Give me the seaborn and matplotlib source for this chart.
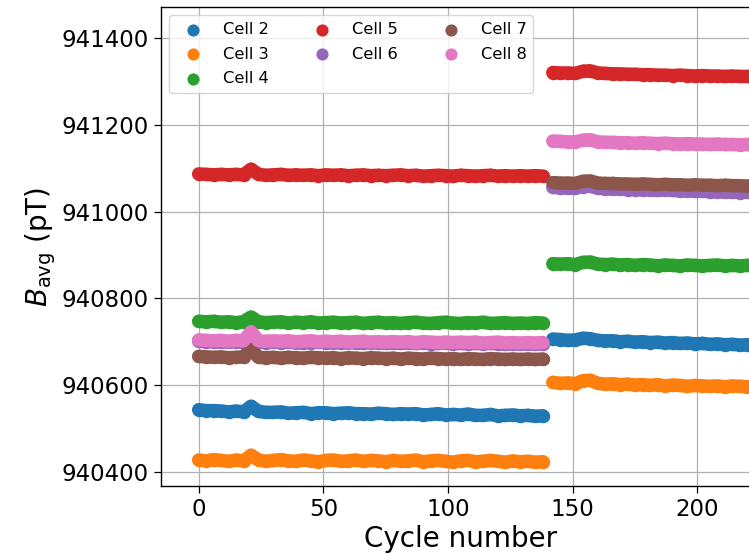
import numpy as np
import pandas as pd
import matplotlib
matplotlib.use("Agg")
import matplotlib.pyplot as plt
import seaborn as sns

# ---------------- data (pT) ----------------
cells = ["Cell 2", "Cell 3", "Cell 4", "Cell 5", "Cell 6", "Cell 7", "Cell 8"]
cycles_run1 = list(range(0, 139, 3))      # 47 sampled cycles, first run
cycles_run2 = list(range(142, 227, 3))    # 29 sampled cycles, second run

cell2_run1 = [940543, 940541, 940541, 940540, 940538, 940540, 940538, 940551, 940539, 940537,
              940537, 940538, 940535, 940536, 940537, 940534, 940536, 940536, 940534, 940535,
              940536, 940534, 940534, 940533, 940535, 940534, 940532, 940534, 940533, 940534,
              940531, 940532, 940534, 940531, 940532, 940531, 940533, 940530, 940530, 940532,
              940529, 940530, 940531, 940529, 940530, 940528, 940529]
cell2_run2 = [940706, 940705, 940703, 940704, 940708, 940707, 940703, 940702, 940702, 940700,
              940701, 940699, 940700, 940698, 940699, 940697, 940698, 940696, 940697, 940695,
              940696, 940694, 940695, 940693, 940694, 940692, 940693, 940692, 940691]

cell3_run1 = [940427, 940425, 940428, 940426, 940424, 940427, 940425, 940438, 940427, 940424,
              940426, 940428, 940425, 940424, 940427, 940425, 940423, 940426, 940427, 940424,
              940425, 940427, 940424, 940426, 940425, 940423, 940426, 940424, 940425, 940427,
              940423, 940425, 940426, 940424, 940422, 940425, 940426, 940423, 940424, 940426,
              940424, 940422, 940425, 940423, 940424, 940422, 940423]
cell3_run2 = [940606, 940604, 940605, 940603, 940610, 940611, 940604, 940602, 940603, 940601,
              940602, 940600, 940601, 940599, 940601, 940598, 940600, 940599, 940597, 940599,
              940598, 940597, 940598, 940596, 940598, 940597, 940596, 940597, 940596]

cell4_run1 = [940747, 940746, 940747, 940745, 940746, 940744, 940746, 940757, 940746, 940744,
              940745, 940746, 940743, 940745, 940744, 940746, 940743, 940744, 940745, 940743,
              940744, 940745, 940742, 940744, 940745, 940743, 940744, 940742, 940744, 940745,
              940743, 940742, 940744, 940745, 940743, 940742, 940744, 940743, 940745, 940742,
              940743, 940744, 940742, 940743, 940742, 940744, 940743]
cell4_run2 = [940880, 940879, 940880, 940878, 940883, 940884, 940879, 940878, 940879, 940877,
              940878, 940876, 940878, 940877, 940875, 940877, 940876, 940875, 940877, 940876,
              940875, 940876, 940877, 940875, 940876, 940875, 940876, 940875, 940876]

cell5_run1 = [941087, 941086, 941085, 941086, 941085, 941086, 941085, 941098, 941086, 941084,
              941085, 941086, 941084, 941085, 941084, 941085, 941083, 941085, 941084, 941085,
              941083, 941084, 941085, 941083, 941084, 941083, 941084, 941085, 941083, 941084,
              941082, 941083, 941084, 941083, 941082, 941084, 941083, 941082, 941083, 941084,
              941082, 941083, 941082, 941083, 941082, 941083, 941082]
cell5_run2 = [941321, 941320, 941320, 941319, 941324, 941325, 941320, 941319, 941318, 941318,
              941317, 941317, 941316, 941316, 941315, 941315, 941314, 941315, 941314, 941313,
              941314, 941313, 941313, 941312, 941313, 941312, 941312, 941311, 941312]

cell6_run1 = [940701, 940700, 940700, 940699, 940699, 940700, 940698, 940700, 940699, 940698,
              940699, 940698, 940699, 940698, 940697, 940698, 940699, 940697, 940698, 940697,
              940698, 940697, 940696, 940698, 940697, 940696, 940697, 940696, 940697, 940696,
              940697, 940695, 940696, 940697, 940695, 940696, 940695, 940696, 940695, 940696,
              940695, 940694, 940695, 940694, 940695, 940694, 940695]
cell6_run2 = [941056, 941055, 941054, 941054, 941058, 941059, 941054, 941053, 941052, 941052,
              941051, 941051, 941050, 941050, 941049, 941050, 941049, 941048, 941048, 941047,
              941047, 941046, 941046, 941045, 941045, 941044, 941045, 941044, 941044]

cell7_run1 = [940666, 940665, 940664, 940665, 940663, 940664, 940665, 940682, 940664, 940663,
              940664, 940662, 940664, 940663, 940662, 940664, 940663, 940662, 940663, 940661,
              940663, 940662, 940661, 940663, 940662, 940661, 940662, 940660, 940662, 940661,
              940660, 940662, 940661, 940660, 940661, 940659, 940661, 940660, 940659, 940661,
              940660, 940659, 940660, 940659, 940660, 940659, 940660]
cell7_run2 = [941067, 941066, 941066, 941065, 941070, 941071, 941066, 941065, 941065, 941064,
              941064, 941063, 941064, 941063, 941062, 941063, 941062, 941062, 941061, 941062,
              941061, 941061, 941060, 941061, 941060, 941060, 941059, 941060, 941059]

cell8_run1 = [940704, 940703, 940702, 940703, 940701, 940703, 940702, 940723, 940702, 940701,
              940702, 940701, 940702, 940700, 940701, 940702, 940700, 940701, 940700, 940701,
              940699, 940700, 940701, 940699, 940700, 940699, 940700, 940699, 940700, 940698,
              940700, 940699, 940698, 940699, 940698, 940699, 940698, 940699, 940697, 940698,
              940699, 940697, 940698, 940697, 940698, 940697, 940698]
cell8_run2 = [941163, 941162, 941161, 941161, 941165, 941166, 941161, 941160, 941160, 941159,
              941159, 941158, 941159, 941158, 941157, 941158, 941157, 941156, 941157, 941156,
              941156, 941155, 941156, 941155, 941155, 941154, 941155, 941154, 941154]

yticks = [940400, 940600, 940800, 941000, 941200, 941400]
xticks = [0, 50, 100, 150, 200]

series = {
    "Cell 2": (cell2_run1, cell2_run2),
    "Cell 3": (cell3_run1, cell3_run2),
    "Cell 4": (cell4_run1, cell4_run2),
    "Cell 5": (cell5_run1, cell5_run2),
    "Cell 6": (cell6_run1, cell6_run2),
    "Cell 7": (cell7_run1, cell7_run2),
    "Cell 8": (cell8_run1, cell8_run2),
}

rows = []
for name in cells:
    r1, r2 = series[name]
    for c, v in zip(cycles_run1, r1):
        rows.append((c, v, name, 1))
    for c, v in zip(cycles_run2, r2):
        rows.append((c, v, name, 2))
df = pd.DataFrame(rows, columns=["cycle", "B", "cell", "run"])

# ---------------- figure ----------------
W, H = 749, 555
fig = plt.figure(figsize=(W / 100, H / 100), dpi=100)

x0, x1 = -15.1, 320.0
px_per_unit = 2.494
ax_left, ax_top, ax_bottom = 161, 7.3, 485.7
ax_w = (x1 - x0) * px_per_unit
ax = fig.add_axes([ax_left / W, 1 - ax_bottom / H, ax_w / W, (ax_bottom - ax_top) / H])

palette = list(plt.get_cmap("tab10").colors[:7])
diam_pt = 13.5 * 0.72  # ~13.5 px wide dense band of points

# each cell: thick band joining its dense points, then the points themselves
for name, col in zip(cells, palette):
    sub = df[df["cell"] == name]
    sns.lineplot(data=sub, x="cycle", y="B", units="run", estimator=None,
                 color=col, linewidth=diam_pt, solid_capstyle="round",
                 solid_joinstyle="round", legend=False, ax=ax)
    sns.scatterplot(data=sub, x="cycle", y="B", color=col, s=diam_pt ** 2,
                    linewidth=0, alpha=1, label=name, ax=ax)

ax.set_xlim(x0, x1)
ax.set_ylim(940367.7, 941471.5)
ax.set_xticks(xticks)
ax.set_yticks(yticks)
ax.ticklabel_format(axis="y", useOffset=False, style="plain")
ax.grid(True, color="#b0b0b0", linewidth=0.9)
ax.set_axisbelow(True)
ax.tick_params(labelsize=16.5, length=5, width=0.9, pad=4)
for sp in ax.spines.values():
    sp.set_color("black")
    sp.set_linewidth(1.0)

ax.set_xlabel("Cycle number", fontsize=20)
ax.set_ylabel(r"$B_{\rm avg}$ (pT)", fontsize=20, labelpad=2)
# keep the x label centred where it is in the (cropped) reference view
ax.xaxis.set_label_coords((461 - ax_left) / ax_w, -0.082)

handles, labels = ax.get_legend_handles_labels()
ax.legend(handles, labels, loc="upper left", ncol=3, fontsize=11.7,
          markerscale=0.9, framealpha=0.8, labelspacing=0.6,
          handlelength=2.15, handletextpad=0.77, columnspacing=2.2)

fig.savefig("out.png", dpi=100)
